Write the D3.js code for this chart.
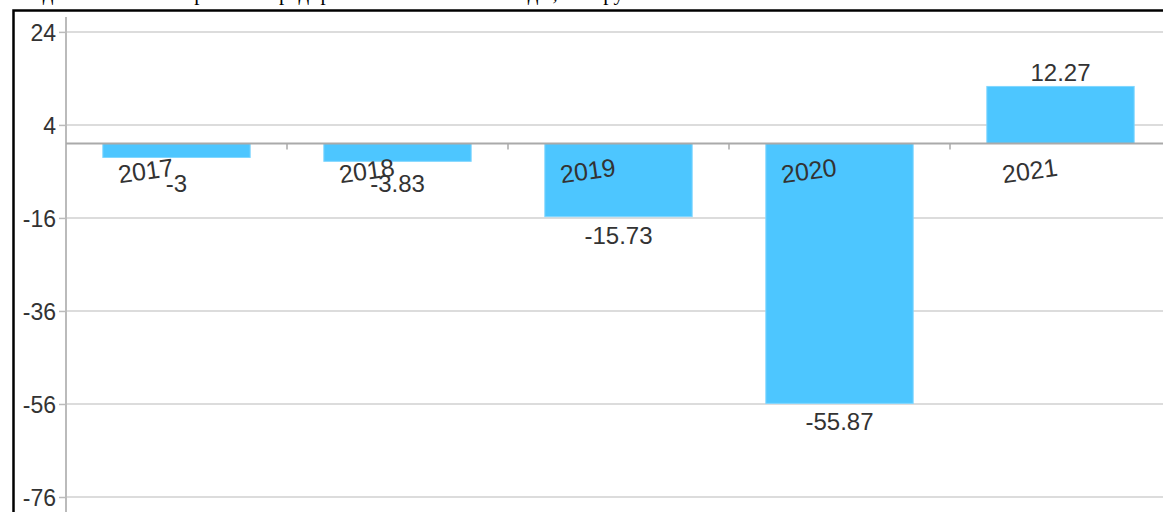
<!DOCTYPE html>
<html>
<head>
<meta charset="utf-8">
<script src="https://cdn.jsdelivr.net/npm/d3@7"></script>
<style>
  body { margin: 0; background: #fff; overflow: hidden; }
  svg { display: block; }
</style>
</head>
<body>
<div id="chart"></div>
<script>
var years = ["2017", "2018", "2019", "2020", "2021"];
var values = [-3, -3.83, -15.73, -55.87, 12.27];
var yTicks = [24, 4, -16, -36, -56, -76];
var title = "Сведения о чистой прибыли предприятия за 2017–2021 годы, млн руб.";

var width = 1163, height = 512;
var margin = {top: 17, left: 66};

var svg = d3.select("#chart").append("svg")
    .attr("width", width)
    .attr("height", height);

// title, mostly cut off by the top edge (only descenders show)
svg.append("text")
    .attr("x", 10)
    .attr("y", -0.5)
    .style("font-family", "Liberation Serif, Times New Roman, serif")
    .style("font-size", "21px")
    .attr("fill", "#000")
    .text(title);

// frame
svg.append("rect")
    .attr("x", 13.5)
    .attr("y", 10.5)
    .attr("width", width + 20)
    .attr("height", height + 20)
    .attr("fill", "none")
    .attr("stroke", "#000")
    .attr("stroke-width", 2.5);

var x = d3.scaleBand()
    .domain(years)
    .range([margin.left, 1171])
    .padding(0);

var y = d3.scaleLinear()
    .domain([-76, 27.2])
    .range([497, margin.top]);

// grid
svg.append("g")
    .selectAll("line")
    .data(yTicks)
    .join("line")
    .attr("x1", margin.left)
    .attr("x2", width)
    .attr("y1", function(d) { return y(d); })
    .attr("y2", function(d) { return y(d); })
    .attr("stroke", "#dcdcdc")
    .attr("stroke-width", 2);

// y axis
var yAxis = svg.append("g")
    .attr("transform", "translate(" + margin.left + ",0)")
    .call(d3.axisLeft(y).tickValues(yTicks).tickFormat(function(d) { return String(d); })
        .tickSize(7).tickSizeOuter(0).tickPadding(3));
yAxis.select(".domain").attr("stroke", "#bbb").attr("stroke-width", 2)
    .attr("d", "M0," + y(27.2) + "V" + (height + 10));
yAxis.selectAll(".tick line").attr("stroke", "#bbb").attr("stroke-width", 1.5);
yAxis.selectAll(".tick text")
    .attr("fill", "#333")
    .style("font-family", "Liberation Sans, Arial, sans-serif")
    .style("font-size", "23px")
    .attr("dy", "0.36em");

// bars
var barW = x.bandwidth() * 2 / 3;
svg.append("g")
    .selectAll("rect")
    .data(values)
    .join("rect")
    .attr("x", function(d, i) { return x(years[i]) + (x.bandwidth() - barW) / 2; })
    .attr("width", barW)
    .attr("y", function(d) { return Math.min(y(d), y(0)); })
    .attr("height", function(d) { return Math.abs(y(d) - y(0)); })
    .attr("fill", "#4dc6ff")
    .attr("stroke", "#7fd6ff")
    .attr("stroke-width", 1);

// x axis line and ticks at band edges
svg.append("line")
    .attr("x1", margin.left)
    .attr("x2", width)
    .attr("y1", y(0))
    .attr("y2", y(0))
    .attr("stroke", "#aaa")
    .attr("stroke-width", 2);

svg.append("g")
    .selectAll("line")
    .data(years.slice(1))
    .join("line")
    .attr("x1", function(d) { return x(d); })
    .attr("x2", function(d) { return x(d); })
    .attr("y1", y(0))
    .attr("y2", y(0) + 6)
    .attr("stroke", "#aaa")
    .attr("stroke-width", 1.5);

// year labels, slightly rotated
svg.append("g")
    .selectAll("text")
    .data(years)
    .join("text")
    .attr("transform", function(d) {
        return "translate(" + (x(d) + x.bandwidth() / 2 - 2) + "," + (y(0) + 32) + ") rotate(-8)";
    })
    .attr("text-anchor", "end")
    .attr("fill", "#333")
    .style("font-family", "Liberation Sans, Arial, sans-serif")
    .style("font-size", "25px")
    .text(function(d) { return d; });

// value labels
svg.append("g")
    .selectAll("text")
    .data(values)
    .join("text")
    .attr("x", function(d, i) { return x(years[i]) + x.bandwidth() / 2; })
    .attr("y", function(d) {
        return d >= 0 ? y(d) - 5 : Math.max(y(d) + 27, y(0) + 48);
    })
    .attr("text-anchor", "middle")
    .attr("fill", "#333")
    .style("font-family", "Liberation Sans, Arial, sans-serif")
    .style("font-size", "24px")
    .text(function(d) { return d; });
</script>
</body>
</html>
